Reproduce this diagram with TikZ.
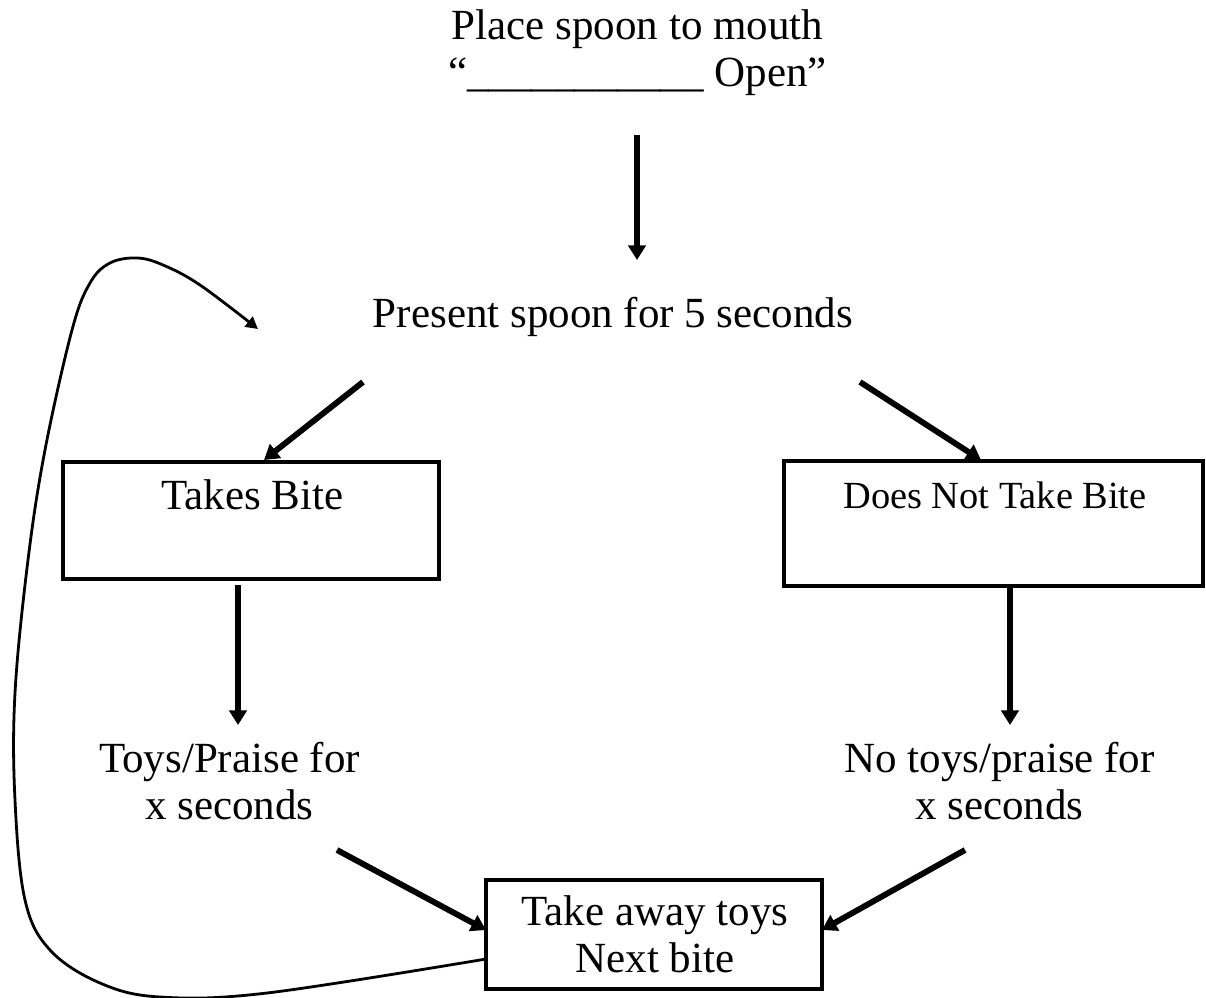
\documentclass[tikz,border=0pt]{standalone}
\usepackage{fontspec}
\setmainfont{Liberation Serif}
\usetikzlibrary{arrows.meta}
\begin{document}
\begin{tikzpicture}[x=0.75pt,y=-0.75pt,
  txt/.style={inner sep=0pt,align=center,font=\fontsize{32.25}{35.25}\selectfont,anchor=base},
  smalltxt/.style={inner sep=0pt,font=\fontsize{28.8}{34}\selectfont,anchor=base},
  boxnode/.style={draw,line width=2.9pt,inner sep=0pt},
  arr/.style={line width=4.4pt,-{Triangle[length=11pt,width=13pt]}},
  loopline/.style={line width=2.1pt,-{Triangle[length=9pt,width=9.5pt]}}]
\useasboundingbox (0,0) rectangle (1206,998);

% boxes
\node[boxnode,minimum width=282pt,minimum height=87.75pt] (tb) at (251,520.5) {};
\node[boxnode,minimum width=314.25pt,minimum height=93.75pt] (ntb) at (993.5,523.5) {};
\node[boxnode,minimum width=252pt,minimum height=81.75pt] (ta) at (654,934.5) {};

% texts (base anchor = baseline of the last line)
\node[txt] (place) at (637.5,87) {Place spoon to mouth\\“\textunderscore\textunderscore\textunderscore\textunderscore\textunderscore\textunderscore\textunderscore\textunderscore\textunderscore\textunderscore\textunderscore{} Open”};
\node[txt] (present) at (613,328) {Present spoon for 5 seconds};
\node[txt] (tbt) at (252.5,509) {Takes Bite};
\node[smalltxt] (ntbt) at (995,508) {Does Not Take Bite};
\node[txt] (toys) at (229.5,819) {Toys/Praise for\\x seconds};
\node[txt] (notoys) at (999.5,819) {No toys/praise for\\x seconds};
\node[txt] (tat) at (655,972) {Take away toys\\Next bite};

% arrow end points
\coordinate (a1s) at (637,135);  \coordinate (a1e) at (637,260);
\coordinate (a2s) at (363,382);  \coordinate (a2e) at (264,460);
\coordinate (a3s) at (860,382);  \coordinate (a3e) at (981,460);
\coordinate (a4s) at (238,585);  \coordinate (a4e) at (238,725);
\coordinate (a5s) at (1010,588); \coordinate (a5e) at (1010,725);
\coordinate (a6s) at (337,850);  \coordinate (a6e) at (486,930);
\coordinate (a7s) at (965,850);  \coordinate (a7e) at (822,930);
\coordinate (c0) at (486,959);   \coordinate (c9) at (258,329);

\draw[arr] (a1s) -- (a1e);
\draw[arr] (a2s) -- (a2e);
\draw[arr] (a3s) -- (a3e);
\draw[arr] (a4s) -- (a4e);
\draw[arr] (a5s) -- (a5e);
\draw[arr] (a6s) -- (a6e);
\draw[arr] (a7s) -- (a7e);

\draw[loopline] plot[smooth,tension=0.6] coordinates {(c0) (267,993) (160,997) (100,983) (50,950) (25,900) (15,800) (15,693) (28,560) (45,450) (72,330) (90,283) (110,263) (137,258) (163,265) (200,285) (c9)};
\end{tikzpicture}
\end{document}
